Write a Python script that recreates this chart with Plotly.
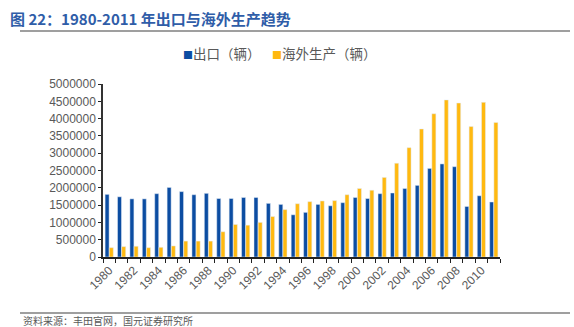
import plotly.graph_objects as go

years = list(range(1980, 2012))
export_units = [1810000, 1740000, 1680000, 1680000, 1830000, 2010000, 1890000, 1800000,
                1840000, 1690000, 1690000, 1720000, 1720000, 1550000, 1520000, 1220000,
                1290000, 1520000, 1480000, 1570000, 1720000, 1690000, 1830000, 1850000,
                1980000, 2070000, 2560000, 2690000, 2610000, 1460000, 1770000, 1590000]
overseas_units = [270000, 300000, 310000, 270000, 280000, 320000, 460000, 460000,
                  460000, 730000, 940000, 920000, 1000000, 1170000, 1370000, 1540000,
                  1600000, 1620000, 1630000, 1800000, 1980000, 1930000, 2300000, 2710000,
                  3160000, 3700000, 4140000, 4540000, 4450000, 3770000, 4470000, 3890000]
y_ticks = list(range(0, 5000001, 500000))
x_labels = [y for y in years if y % 2 == 0]

BLUE = "#0c4da2"
GOLD = "#ffb910"
GREY = "#595959"
NUM_FONT = "Liberation Sans, Arial, sans-serif"
CJK_FONT = "Noto Sans CJK SC, sans-serif"

fig = go.Figure()
fig.add_bar(x=years, y=export_units, name="出口（辆）", marker_color=BLUE)
fig.add_bar(x=years, y=overseas_units, name="海外生产（辆）", marker_color=GOLD)

fig.update_layout(
    width=574, height=327,
    margin=dict(l=103, r=74, t=84, b=70),
    paper_bgcolor="white", plot_bgcolor="white",
    barmode="group", bargap=0.32, bargroupgap=0.05,
    showlegend=False,
    font=dict(family=NUM_FONT, color=GREY, size=12),
)

fig.update_xaxes(
    range=[1979.5, 2011.5],
    tickmode="array", tickvals=x_labels, ticktext=[str(v) for v in x_labels],
    tickangle=-45, ticks="", showgrid=False, zeroline=False,
    showline=True, linecolor="#222222", linewidth=1.5,
    tickfont=dict(family=NUM_FONT, size=12, color=GREY),
    minor=dict(tick0=1979.5, dtick=1, ticks="outside", ticklen=4,
               tickcolor="#222222", tickwidth=1.2, showgrid=False),
)
fig.update_yaxes(
    range=[0, 5000000],
    tickmode="array", tickvals=y_ticks, ticktext=[str(v) for v in y_ticks],
    ticks="outside", ticklen=3, tickcolor="#222222",
    showgrid=False, zeroline=False,
    showline=True, linecolor="#333333", linewidth=1.5,
    tickfont=dict(family=NUM_FONT, size=12, color=GREY),
)


def px_x(x):
    return (x - 103) / 397


def px_y(y):
    return (257 - y) / 173


# header and footer rules
for yy in (31, 313):
    fig.add_shape(type="line", xref="paper", yref="paper",
                  x0=px_x(20), x1=px_x(570), y0=px_y(yy), y1=px_y(yy),
                  line=dict(color="#7f7f7f", width=1.5))

fig.add_annotation(
    text="<b>图 22：1980-2011 年出口与海外生产趋势</b>",
    xref="paper", yref="paper", x=px_x(8), y=px_y(18),
    xanchor="left", yanchor="middle", showarrow=False,
    font=dict(family=CJK_FONT, size=15, color="#2f5da8"),
)

# legend entries
legend_items = [("出口（辆）", BLUE, 181), ("海外生产（辆）", GOLD, 270)]
for label, color, left in legend_items:
    fig.add_annotation(
        text=f"<span style='color:{color};font-size:10px'>■</span>{label}",
        xref="paper", yref="paper", x=px_x(left), y=px_y(53),
        xanchor="left", yanchor="middle", showarrow=False,
        font=dict(family=CJK_FONT, size=13.5, color=GREY),
    )

fig.add_annotation(
    text="资料来源：丰田官网，国元证券研究所",
    xref="paper", yref="paper", x=px_x(21), y=px_y(320),
    xanchor="left", yanchor="middle", showarrow=False,
    font=dict(family=CJK_FONT, size=10, color=GREY),
)

fig.write_html("out.html")
